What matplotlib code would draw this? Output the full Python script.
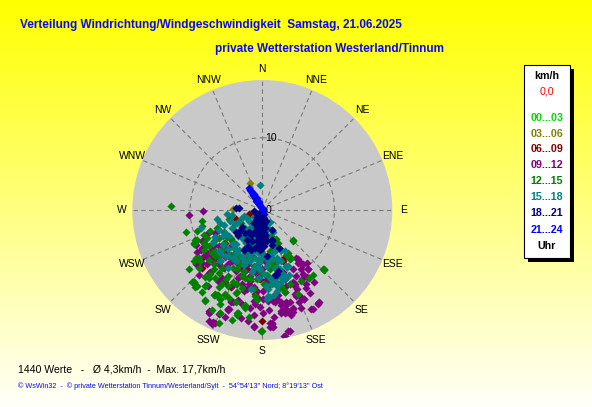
import numpy as np
import matplotlib
matplotlib.use("Agg")
import matplotlib.pyplot as plt
from matplotlib.patches import Rectangle
from matplotlib.colors import LinearSegmentedColormap

# ---------------- texts ----------------
title = "Verteilung Windrichtung/Windgeschwindigkeit  Samstag, 21.06.2025"
subtitle = "private Wetterstation Westerland/Tinnum"
direction_labels = ["N", "NNE", "NE", "ENE", "E", "ESE", "SE", "SSE",
                    "S", "SSW", "SW", "WSW", "W", "WNW", "NW", "NNW"]
hour_bins = ["00...03", "03...06", "06...09", "09...12",
             "12...15", "15...18", "18...21", "21...24"]
bin_colors = ["#00E000", "#808000", "#800000", "#800080",
              "#008000", "#008080", "#000080", "#0000FF"]
legend_unit = "km/h"
calm_value = "0,0"
legend_footer = "Uhr"
stats_text = "1440 Werte   -   \u00d8 4,3km/h  -  Max. 17,7km/h"
footer_text = ("\u00a9 WsWin32  -  \u00a9 private Wetterstation Tinnum/Westerland/Sylt  -  "
               "54\u00b054'13'' Nord; 8\u00b019'13'' Ost")
r_max = 18
ring_values = [10]

# ---------------- data: wind vectors (east, north) in km/h, per time bin ----------------
pts_00_03 = [(0.0, -0.6), (0.2, -1.3), (-0.3, -0.9), (0.1, -2.1), (-0.2, -1.6)]

pts_03_06 = [(-1.7, 3.7), (-4.0, 0.1), (-0.1, -1.8), (0.3, -2.6)]

pts_06_09 = [(-3.7, -1.3), (-1.9, -0.5), (-5.6, -5.4), (-8.5, -6.8), (-4.4, -10.6),
             (-2.1, -8.2), (-0.2, -5.7), (2.0, -5.3), (2.9, -6.8), (-0.1, -15.3),
             (-1.3, -6.5), (-0.5, -3.0), (-8.4, -8.0), (2.9, -7.0), (-4.4, -4.0),
             (-0.3, -9.6)]

pts_09_12 = [(-10.1, -0.7), (-8.2, -0.1), (-7.5, -3.2), (-9.2, -4.8), (-8.5, -5.5),
             (-7.9, -5.0), (-7.9, -6.2), (-7.2, -6.2), (-6.5, -6.6), (-5.8, -7.1),
             (-5.1, -6.5), (-6.9, -5.5), (-6.0, -5.0), (-5.1, -4.6), (-4.4, -5.0),
             (-4.2, -7.1), (-3.5, -7.3), (-2.8, -8.2), (-2.4, -11.0), (-1.9, -10.3),
             (-1.2, -10.7), (-1.0, -11.6), (-4.4, -12.8), (-4.0, -12.8), (-4.7, -13.7),
             (-7.4, -15.4), (-6.6, -15.6), (-1.2, -16.2), (-1.7, -9.1), (-3.1, -9.1),
             (-2.1, -5.9), (-1.0, -5.5), (-0.5, -9.1), (-0.1, -8.2), (-4.2, -10.5),
             (-5.1, -10.0), (-8.3, -4.3), (-6.5, -3.2),
             (4.9, -7.3), (5.5, -7.6), (6.3, -8.1), (5.4, -8.2), (4.3, -8.2),
             (4.7, -9.1), (5.5, -9.6), (4.3, -10.0), (4.5, -10.5), (3.1, -9.6),
             (3.3, -10.5), (2.6, -10.7), (3.1, -11.4), (1.5, -12.6), (2.0, -12.3),
             (2.6, -12.8), (3.3, -12.8), (3.3, -13.2), (2.6, -14.2), (3.1, -14.2),
             (3.8, -14.2), (4.0, -14.6), (2.6, -13.2), (5.4, -12.1), (5.8, -12.3),
             (7.7, -12.9), (7.0, -13.7), (3.8, -16.7), (3.1, -17.4), (1.3, -15.8),
             (1.1, -16.2), (0.1, -11.2), (0.1, -12.3), (1.0, -10.0),
             (-7.4, -14.2), (-5.9, -12.3), (-4.7, -13.7), (-6.9, -15.6), (4.2, -13.7),
             (3.3, -14.1),
             (-5.0, -5.8), (-4.5, -6.5), (-3.8, -6.0), (-6.8, -7.0), (-7.6, -7.5),
             (-5.3, -8.0), (-3.0, -6.6), (-2.0, -7.5), (-1.0, -8.6), (0.5, -9.7),
             (1.8, -9.4), (2.8, -8.6), (0.4, -7.0), (-0.6, -12.2), (-2.8, -13.0),
             (-3.4, -12.4), (4.5, -11.6), (6.0, -10.8), (5.0, -6.8), (6.2, -7.4),
             (0.9, -13.8), (1.6, -14.8), (-1.2, -14.6), (-0.3, -13.4),
             (5.7, -7.5), (6.2, -9.3), (6.0, -10.2), (7.8, -12.8),
             (-9.2, -7.5), (-7.6, -5.9), (-7.2, -6.6), (-7.4, -8.7), (-6.0, -7.5),
             (-4.7, -7.5), (-3.7, -8.5), (-5.6, -9.4), (-2.6, -11.2), (-2.1, -10.9),
             (-1.2, -12.6), (-1.0, -13.0), (-4.4, -12.6), (-4.7, -13.9), (-7.4, -14.0),
             (-6.0, -14.4), (-6.9, -15.8), (-1.2, -16.0), (1.1, -15.6), (1.3, -16.0),
             (3.6, -16.7), (3.1, -13.9), (3.6, -14.0), (2.6, -14.0), (4.2, -13.5),
             (5.3, -13.5), (7.7, -13.0), (6.8, -13.7), (5.8, -12.3), (4.7, -11.9),
             (4.5, -10.3), (5.6, -8.9), (6.3, -8.2), (5.4, -7.3), (4.7, -6.6),
             (3.8, -10.3), (2.2, -11.7), (1.7, -12.8), (0.8, -12.6), (0.1, -14.2),
             (-0.8, -11.2), (-1.7, -9.8), (-2.8, -10.3), (-3.3, -9.4), (-6.7, -4.8),
             (-8.3, -5.3), (-5.1, -5.3), (-2.4, -8.5), (-1.7, -13.5),
             (-8.0, -4.0), (-8.4, -7.3), (-7.8, -6.3), (-7.3, -8.6), (-7.5, -10.5),
             (-4.6, -13.7), (-6.8, -15.5), (-7.3, -14.1), (4.8, -10.9), (3.9, -12.7),
             (3.2, -13.7), (3.4, -14.1), (4.3, -14.1), (3.0, -17.4), (1.4, -15.7),
             (1.5, -16.2), (-3.0, -15.0), (-2.0, -15.4), (-5.2, -14.8), (6.6, -11.5),
             (7.2, -10.0), (5.1, -12.8), (-8.8, -9.0), (-6.2, -9.8), (-9.0, -5.8)]

pts_12_15 = [(-12.6, 0.5), (-8.4, -1.5), (-8.3, -2.2), (-8.1, -3.4), (-9.3, -4.2),
             (-8.1, -4.5), (-7.8, -4.9), (-7.2, -2.9), (-6.3, -2.5), (-8.8, -6.6),
             (-8.6, -7.1), (-9.6, -10.0), (-9.3, -10.6), (-7.8, -10.4), (-8.0, -12.6),
             (-6.6, -11.8), (-5.1, -11.8), (-3.7, -11.5), (-3.7, -12.8), (-6.0, -15.7),
             (-2.5, -13.3), (-0.2, -16.8), (-6.5, -9.4), (-6.7, -8.2), (-5.6, -8.0),
             (-4.7, -9.1), (-4.0, -10.0), (-3.5, -10.3), (-2.4, -9.4), (-1.7, -9.6),
             (-0.8, -9.6), (-0.3, -8.4), (-1.2, -7.8), (-2.4, -6.8), (-3.1, -7.5),
             (-4.4, -6.2), (-5.6, -5.5), (-6.5, -5.7), (-7.4, -5.0), (-6.0, -3.9),
             (-5.3, -4.5), (-4.9, -3.7), (-3.7, -5.5), (-3.3, -6.2), (-1.7, -6.4),
             (-2.6, -8.4), (-3.5, -8.2), (-6.7, -4.3), (-4.2, -4.3), (-5.3, -3.0),
             (1.4, -2.7), (1.9, -4.0), (4.3, -4.2), (2.6, -5.5), (3.3, -6.2),
             (1.0, -5.7), (0.6, -6.8), (1.7, -7.3), (1.0, -8.2), (2.4, -9.1),
             (1.5, -10.0), (3.8, -6.8), (6.4, -9.4), (8.4, -8.2), (4.9, -11.6),
             (3.6, -5.9),
             (-9.7, -10.0), (-7.9, -12.5), (-6.3, -11.7), (-3.5, -14.6), (-2.4, -13.5),
             (8.5, -8.3), (-5.1, -11.8),
             (-4.0, -6.8), (-2.0, -6.0), (-0.5, -5.5), (-6.0, -6.3), (-7.0, -6.0),
             (-5.0, -9.6), (-2.8, -10.8), (-1.2, -11.0), (0.2, -10.2), (0.6, -9.0),
             (-3.0, -1.8), (-4.6, -1.2), (-2.2, -3.4), (1.2, -3.6), (2.2, -4.6),
             (-0.8, -12.5), (2.8, -11.0), (3.9, -10.2), (-8.8, -8.0), (-7.2, -8.8),
             (-6.0, -10.6), (-4.6, -12.2), (-5.8, -13.0), (-5.9, -14.2), (-3.3, -14.2),
             (-9.5, -4.6), (-8.1, -5.5), (-9.2, -6.6), (-9.5, -10.0), (-7.9, -10.5),
             (-8.3, -11.4), (-6.7, -11.7), (-5.1, -11.6), (-5.8, -12.3), (-3.5, -11.4),
             (-3.7, -10.3), (-2.4, -13.2), (-3.5, -14.3), (-1.0, -11.9), (-0.1, -16.7),
             (0.8, -10.5), (2.6, -10.5), (3.1, -11.4), (6.5, -9.4), (8.6, -8.2),
             (4.2, -4.3), (4.0, -6.6), (1.3, -7.5), (-7.4, -9.4), (-6.0, -8.7),
             (-4.0, -8.0), (-2.8, -9.1), (-1.7, -9.4), (-1.0, -8.0), (-6.7, -7.5),
             (-7.4, -6.9), (-7.6, -3.9), (-9.0, -2.9), (-4.7, -10.5), (-5.6, -10.3),
             (-9.1, -4.1), (-9.4, -4.7), (-9.5, -7.0), (-6.6, -6.3), (-9.5, -9.9),
             (-9.1, -10.5), (-6.6, -11.6), (-6.2, -11.8), (-3.3, -14.3), (-5.9, -14.3),
             (-10.2, -8.2), (-8.0, -9.3), (-4.2, -15.2), (-1.8, -14.8), (5.3, -9.8),
             (7.0, -9.0), (-10.5, -3.0), (-7.0, -13.8)]

pts_15_18 = [(-4.9, -0.5), (-4.2, -0.7), (-5.8, -1.8), (-5.3, -2.1), (-6.0, -2.7),
             (-6.6, -3.7), (-5.1, -3.2), (-4.2, -2.5), (-3.5, -1.8), (-3.1, -2.7),
             (-2.8, -3.9), (-2.4, -2.5), (-1.9, -3.7), (-2.4, -4.3), (-1.7, -4.8),
             (-1.5, -5.9), (-1.0, -6.6), (-0.5, -7.3), (-1.7, -7.1), (-2.8, -6.4),
             (-4.0, -6.6), (-4.7, -6.4), (-4.7, -5.4), (-5.8, -5.9), (-3.6, -4.7),
             (-1.0, -3.7), (-0.5, -1.4), (-2.1, -1.1), (-1.5, -2.3), (-0.5, -2.5),
             (-0.3, 3.5),
             (1.0, -1.6), (0.8, -2.5), (1.5, -3.0), (0.7, -3.4), (1.5, -5.0),
             (1.7, -5.7), (2.6, -5.5), (3.1, -5.7), (2.0, -6.6), (0.8, -7.1),
             (0.6, -7.8), (1.7, -8.0), (2.4, -8.2), (1.3, -10.3), (2.0, -11.2),
             (1.0, -12.1), (0.5, -10.5), (3.3, -7.8), (2.9, -8.9),
             (-3.0, -1.2), (-2.6, -0.8), (-1.8, -1.5), (-1.2, -1.0), (-3.8, -2.0),
             (-4.5, -1.5), (-2.0, -2.8), (-1.0, -2.0), (-0.6, -3.2), (-3.4, -3.6),
             (-2.2, -4.6), (-1.2, -5.0), (-0.4, -6.0), (-1.9, -6.9), (-3.2, -5.6),
             (-0.9, -7.8), (0.3, -6.2), (1.2, -6.2), (2.2, -7.0), (-2.5, -7.6),
             (-1.4, -8.6), (0.2, -8.8), (1.0, -9.4), (0.8, -11.0), (1.6, -11.8),
             (2.6, -10.0), (3.7, -9.0), (-5.5, -3.6), (-6.3, -1.2), (-4.0, -4.7),
             (-3.6, -6.0), (0.5, -3.5), (2.5, -9.1), (3.4, -7.9),
             (-8.5, -2.5), (-6.5, -3.7), (-2.4, -5.2), (-1.8, -6.2), (-0.6, -6.9),
             (-2.2, -7.2), (-1.1, -8.0), (1.3, -6.6), (2.6, -7.1), (3.6, -7.8),
             (3.3, -9.4), (2.9, -9.4), (1.7, -9.8), (2.0, -10.5), (0.8, -11.9),
             (0.6, -12.3), (-1.5, -10.9), (-0.3, -8.2), (-2.8, -6.6), (-5.1, -6.4),
             (-6.0, -5.7), (-4.7, -8.0), (-3.7, -7.1), (-0.5, -9.4), (-0.1, -6.6),
             (-0.8, -5.7), (2.2, -8.0),
             (-6.8, -4.6), (-5.5, -4.8), (-4.6, -3.6), (-3.9, -5.3), (-5.9, -7.0)]

pts_18_21 = [(-3.7, 0.3), (-3.2, 0.3), (-1.1, -0.2), (-0.5, -0.5), (-0.1, -0.2),
             (-0.8, -0.9), (-0.1, -1.1), (-1.2, -1.8), (-0.3, -2.1), (0.1, -2.5),
             (-1.0, -3.0), (-0.3, -3.4), (0.1, -3.9), (-0.8, -4.3), (-0.1, -4.8),
             (-1.9, -3.0), (-2.4, -3.2), (-2.8, -2.3), (-1.6, -3.4), (-1.4, -4.3),
             (-2.0, -5.0), (-1.0, -5.3), (-3.3, -3.4), (-3.7, -3.0), (-0.3, -5.5),
             (-0.1, -0.5), (0.2, -1.1), (-0.1, -1.8), (0.4, -2.5), (0.0, -3.2),
             (0.4, -3.9), (-0.1, -4.6), (0.6, -4.3), (1.3, -4.1), (1.3, -4.8),
             (2.2, -8.4), (1.7, -9.0), (2.3, -5.2), (1.4, -4.1),
             (-0.9, -0.4), (-0.5, -0.9), (-0.1, -1.5), (0.3, -0.6), (-0.9, -1.4),
             (-0.5, -1.8), (0.3, -1.9), (-0.7, -2.4), (-0.3, -2.8), (0.3, -3.0),
             (-0.8, -3.5), (0.4, -3.4), (-0.5, -4.0), (0.2, -4.3), (-0.6, -4.8),
             (0.3, -5.0), (-0.2, -5.2), (-0.6, -2.0), (0.0, -0.8), (0.5, -1.5),
             (1.3, -2.7), (1.3, -4.3), (0.6, -6.4), (-1.5, -5.5), (-2.1, -4.1),
             (-3.1, -2.9), (-0.3, -4.3), (-1.0, -2.9), (0.4, -3.4), (2.0, -8.9),
             (-2.6, -5.5)]

pts_21_24 = [(-1.9, 3.0), (-1.75, 2.8), (-1.6, 2.6), (-1.45, 2.35), (-1.3, 2.1),
             (-1.15, 1.9), (-1.0, 1.7), (-0.85, 1.5), (-0.7, 1.25), (-0.55, 1.0),
             (-0.4, 0.8), (-0.25, 0.55), (-0.1, 0.3), (0.05, 0.1), (0.1, -0.1),
             (-0.6, 1.2), (-1.2, 2.2), (-0.9, 1.3), (-0.5, 1.1), (-0.3, 0.7),
             (-0.7, 1.6)]

all_bins = [pts_00_03, pts_03_06, pts_06_09, pts_09_12,
            pts_12_15, pts_15_18, pts_18_21, pts_21_24]

# ---------------- figure ----------------
W, H = 592, 407
fig = plt.figure(figsize=(W / 100, H / 100), dpi=100)

# background gradient (yellow -> pale yellow)
bg = fig.add_axes([0, 0, 1, 1], zorder=-10)
grad = np.linspace(0, 1, 256).reshape(-1, 1)
cmap_bg = LinearSegmentedColormap.from_list("bg", ["#FFFF00", "#FFFFFA"])
bg.imshow(grad, aspect="auto", cmap=cmap_bg, extent=[0, 1, 0, 1])
bg.set_axis_off()

def fx(px):
    return px / W

def fy(py):
    return 1 - py / H

# polar axes: centre (262.3, 210), radius 130 px
cx, cy, rad = 262.3, 210.0, 130.0
ax = fig.add_axes([fx(cx - rad), fy(cy + rad), 2 * rad / W, 2 * rad / H],
                  projection="polar")
ax.set_facecolor("#C9C9C9")
ax.set_theta_zero_location("N")
ax.set_theta_direction(-1)
ax.set_ylim(0, r_max)
ax.spines["polar"].set_visible(False)
ax.set_xticks(np.deg2rad(np.arange(0, 360, 22.5)))
ax.set_xticklabels([])
ax.set_yticks(ring_values)
ax.set_yticklabels([])
ax.grid(True, color="#7A7A7A", linestyle=(0, (4, 3)), linewidth=0.8)
ax.tick_params(length=0)

lab_font = dict(family="Liberation Sans", fontsize=7.5, color="black")
for i, lab in enumerate(direction_labels):
    ax.text(np.deg2rad(i * 22.5), 19.5, lab, ha="center", va="center",
            clip_on=False, **lab_font)

for rv in [0] + ring_values:
    ax.annotate(str(rv), xy=(0, rv), xytext=(2.2, 0), textcoords="offset points",
                ha="left", va="center", zorder=20, **lab_font)

for pts, col in zip(all_bins, bin_colors):
    arr = np.array(pts)
    theta = np.arctan2(arr[:, 0], arr[:, 1])
    r = np.hypot(arr[:, 0], arr[:, 1])
    ax.scatter(theta, r, marker="D", s=17, color=col, linewidths=0, zorder=5)

# ---------------- titles ----------------
fig.text(fx(20), fy(25), title, ha="left", va="center", color="#0A0AF0",
         family="Liberation Sans", fontweight="bold", fontsize=8.45)
fig.text(fx(215), fy(49), subtitle, ha="left", va="center", color="#0A0AF0",
         family="Liberation Sans", fontweight="bold", fontsize=8.5)

# ---------------- legend box ----------------
bx0, by0, bx1, by1 = 524, 65, 570, 258
fig.patches.append(Rectangle((fx(bx0 + 4), fy(by1 + 4)), (bx1 - bx0) / W, (by1 - by0) / H,
                             transform=fig.transFigure, facecolor="black",
                             edgecolor="none", zorder=1))
fig.patches.append(Rectangle((fx(bx0), fy(by1)), (bx1 - bx0) / W, (by1 - by0) / H,
                             transform=fig.transFigure, facecolor="white",
                             edgecolor="black", linewidth=0.8, zorder=2))
lx = fx(547)
leg_font = dict(family="Liberation Sans", fontsize=7.7, ha="center", va="center")
fig.text(lx, fy(76), legend_unit, color="black", fontweight="bold", zorder=3, **leg_font)
fig.text(lx, fy(92), calm_value, color="#FF0000", zorder=3, **leg_font)
leg_y = [118, 134, 149, 165, 181, 197, 213, 230]
for lab, col, yy in zip(hour_bins, bin_colors, leg_y):
    fig.text(lx, fy(yy), lab, color=col, fontweight="bold", zorder=3, **leg_font)
fig.text(lx, fy(246), legend_footer, color="black", fontweight="bold", zorder=3, **leg_font)

# ---------------- bottom texts ----------------
fig.text(fx(18), fy(369), stats_text, ha="left", va="center", color="black",
         family="Liberation Sans", fontsize=7.6)
fig.text(fx(18), fy(386), footer_text, ha="left", va="center", color="#0A0AF0",
         family="Liberation Sans", fontsize=5.2)

fig.savefig("out.png", dpi=100)
